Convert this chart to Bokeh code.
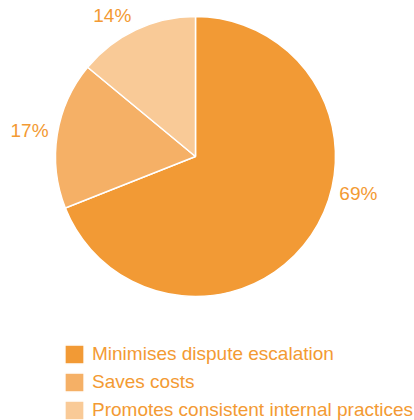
import numpy as np
from bokeh.plotting import figure
from bokeh.models import ColumnDataSource, Range1d, Legend, LegendItem
from bokeh.core.properties import value
from bokeh.embed import file_html
from bokeh.resources import INLINE

# ---- data ----
categories = ["Minimises dispute escalation", "Saves costs", "Promotes consistent internal practices"]
values = [69, 17, 14]
colors = ["#F29A35", "#F5B066", "#F9CA97"]
text_color = "#F39A33"
font = "Liberation Sans"

# ---- layout (canvas 414x420, data units == pixels) ----
W, H = 414, 420
cx, cy, r = 195, 264, 140
label_angles_deg = [-12.8, 171, 120.5]   # where each percentage label sits
label_radii = [167, 168, 164]

frac = np.array(values, dtype=float) / np.sum(values)
cum = np.concatenate([[0], np.cumsum(frac)])
start = np.pi / 2 - cum[:-1] * 2 * np.pi
end = np.pi / 2 - cum[1:] * 2 * np.pi

p = figure(width=W, height=H, x_range=Range1d(0, W), y_range=Range1d(0, H),
           x_axis_type=None, y_axis_type=None, toolbar_location=None,
           output_backend="svg", min_border=0)
p.outline_line_color = None
p.grid.visible = False

renderers = []
for i in range(len(values)):
    rr = p.wedge(x=cx, y=cy, radius=r, start_angle=start[i], end_angle=end[i],
                 direction="clock", fill_color=colors[i], line_color="white", line_width=1.5)
    renderers.append(rr)

la = np.deg2rad(label_angles_deg)
lr = np.array(label_radii, dtype=float)
lab = ColumnDataSource(dict(
    x=cx + lr * np.cos(la), y=cy + lr * np.sin(la),
    t=[f"{v}%" for v in values],
))
p.text(x="x", y="y", text="t", source=lab, text_align="center", text_baseline="middle",
       text_font=value(font), text_font_size="19px", text_color=text_color)

legend = Legend(items=[LegendItem(label=c, renderers=[rr]) for c, rr in zip(categories, renderers)],
                location=(62, -2), orientation="vertical",
                glyph_width=24, glyph_height=24, label_standoff=6, spacing=4,
                padding=0, margin=0, label_height=24,
                label_text_font=font, label_text_font_size="19px", label_text_color=text_color,
                border_line_alpha=0, background_fill_alpha=0)
p.add_layout(legend, "center")

open("out.html", "w").write(file_html(p, INLINE))
